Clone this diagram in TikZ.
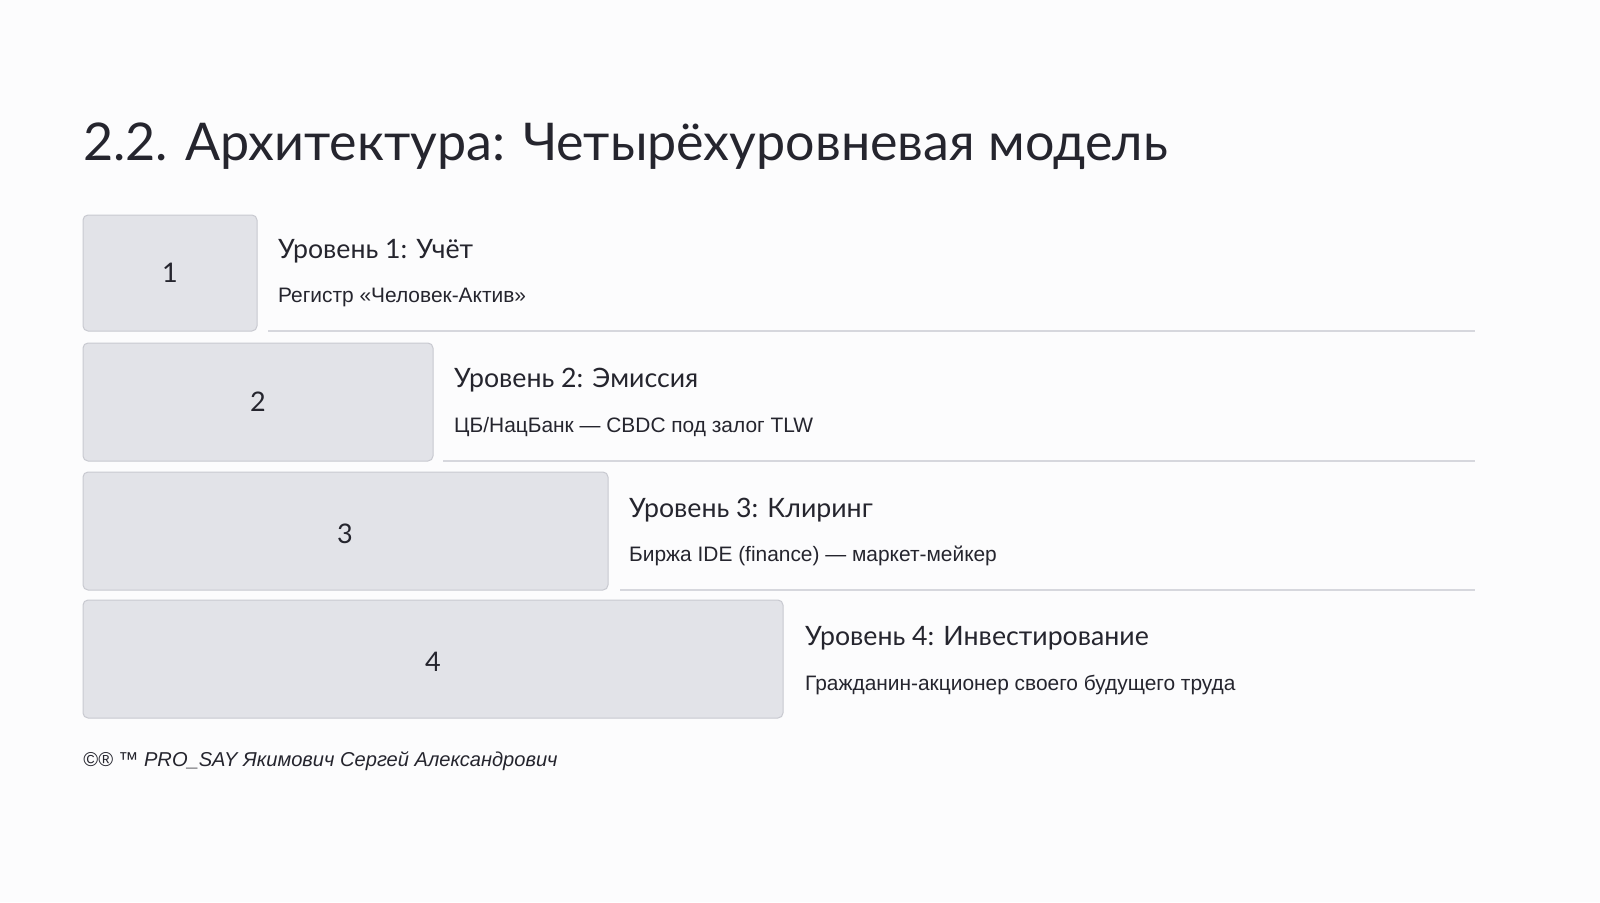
\documentclass[tikz,border=0pt]{standalone}
\usepackage{fontspec}
\setmainfont{Lato}
\newfontfamily\bodyfont{Liberation Sans}
\usepackage{tikz}
\usetikzlibrary{positioning}
\definecolor{pagebg}{HTML}{FCFCFD}
\definecolor{ink}{HTML}{25252E}
\definecolor{boxfill}{HTML}{E2E3E8}
\definecolor{boxline}{HTML}{C8C9D0}
\definecolor{ruleline}{HTML}{D6D7DD}

\begin{document}
\begin{tikzpicture}
[x=1pt, y=-1pt,
    every node/.style={inner sep=0pt, text=ink},
    levelbox/.style={draw=boxline, fill=boxfill, rounded corners=5pt, line width=1pt},
    levelnum/.style={font=\fontsize{27}{32}\selectfont},
    levelhead/.style={anchor=base west, font=\fontsize{26.7}{32}\selectfont},
    levelsub/.style={anchor=base west, font=\bodyfont\fontsize{20.9}{25}\selectfont},
    sepline/.style={draw=ruleline, line width=1.3pt}]
    \fill[pagebg] (0,0) rectangle (1600,902);
    \useasboundingbox (0,0) rectangle (1600,902);

    \node[anchor=base west, font=\fontsize{52}{62}\selectfont] (title) at (83,160)
    {2.2. Архитектура: Четырёхуровневая модель};

    % level boxes
    \draw[levelbox] (83,215) rectangle (257,331);
    \draw[levelbox] (83,343) rectangle (433,461);
    \draw[levelbox] (83,472) rectangle (608,590);
    \draw[levelbox] (83,600) rectangle (783,718);
    \node[levelnum] (num1) at (170,273) {1};
    \node[levelnum] (num2) at (258,402) {2};
    \node[levelnum] (num3) at (345,534) {3};
    \node[levelnum] (num4) at (433,662) {4};

    % level texts
    \node[levelhead] (head1) at (278,258) {Уровень 1: Учёт};
    \node[levelsub] (sub1) at (278,302) {Регистр «Человек-Актив»};
    \node[levelhead] (head2) at (454,387) {Уровень 2: Эмиссия};
    \node[levelsub] (sub2) at (454,432) {ЦБ/НацБанк — CBDC под залог TLW};
    \node[levelhead] (head3) at (629,517) {Уровень 3: Клиринг};
    \node[levelsub] (sub3) at (629,561) {Биржа IDE (finance) — маркет-мейкер};
    \node[levelhead] (head4) at (805,645) {Уровень 4: Инвестирование};
    \node[levelsub] (sub4) at (805,690) {Гражданин-акционер своего будущего труда};

    % separators
    \coordinate (line1a) at (268,331);
    \coordinate (line1b) at (1475,331);
    \coordinate (line2a) at (443,461);
    \coordinate (line2b) at (1475,461);
    \coordinate (line3a) at (620,590);
    \coordinate (line3b) at (1475,590);
    \draw[sepline] (line1a) -- (line1b);
    \draw[sepline] (line2a) -- (line2b);
    \draw[sepline] (line3a) -- (line3b);

    \node[anchor=base west, font=\bodyfont\itshape\fontsize{20.1}{24}\selectfont] (credit) at (83,766)
    {©® ™ PRO\_SAY Якимович Сергей Александрович};
\end{tikzpicture}
\end{document}
